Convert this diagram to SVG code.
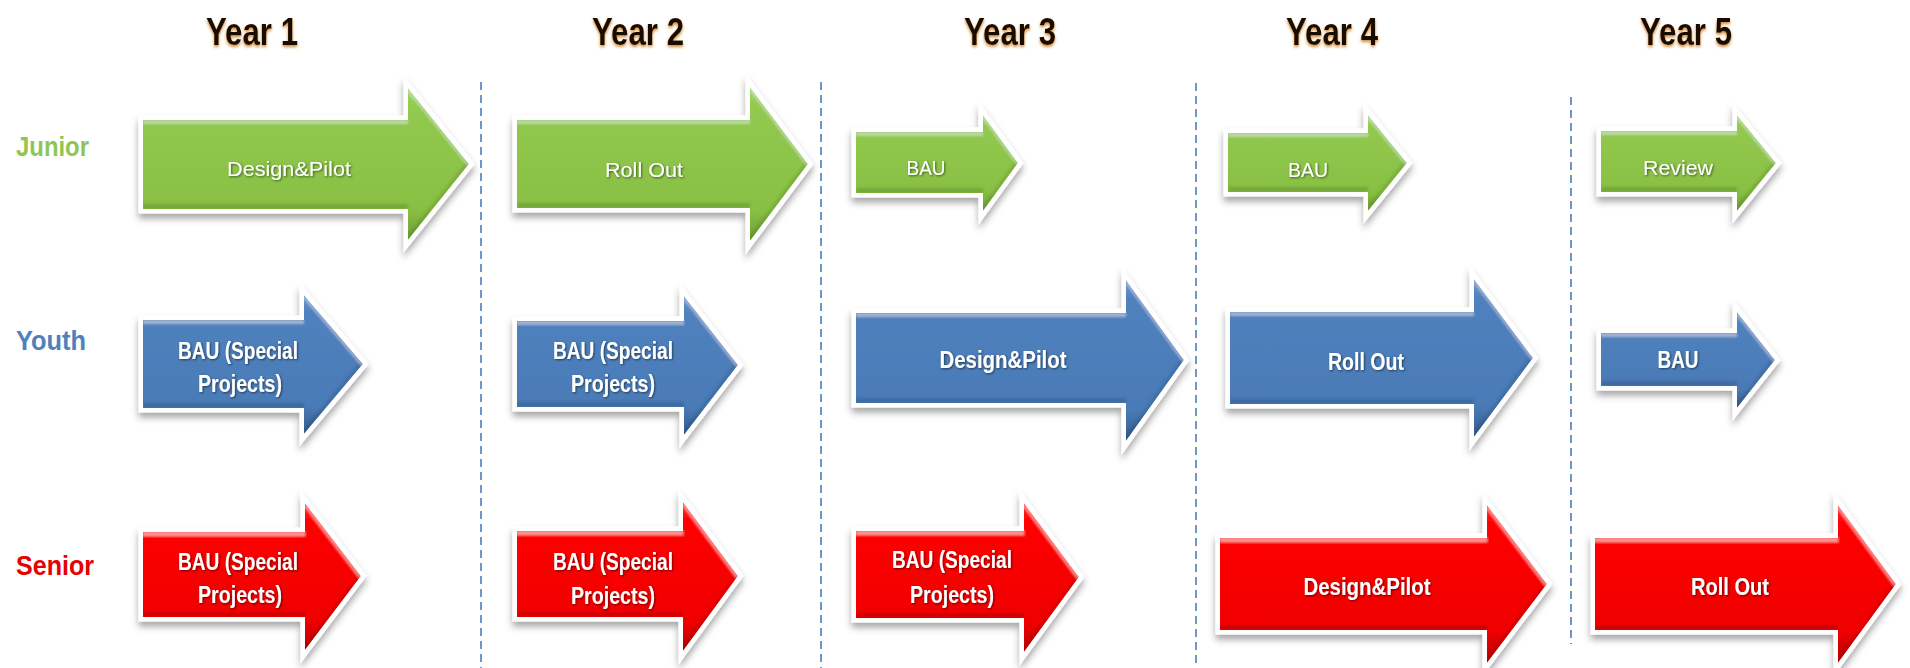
<svg xmlns="http://www.w3.org/2000/svg" width="1910" height="668" viewBox="0 0 1910 668">
<defs>
<linearGradient id="gGreen" x1="0" y1="0" x2="0" y2="1">
<stop offset="0" stop-color="#a6d86a"/><stop offset="0.12" stop-color="#92c94f"/><stop offset="0.8" stop-color="#88c043"/><stop offset="1" stop-color="#6e9e35"/>
</linearGradient>
<linearGradient id="gBlue" x1="0" y1="0" x2="0" y2="1">
<stop offset="0" stop-color="#6a97cf"/><stop offset="0.12" stop-color="#4f81bd"/><stop offset="0.8" stop-color="#4a7bb7"/><stop offset="1" stop-color="#355c8c"/>
</linearGradient>
<linearGradient id="gRed" x1="0" y1="0" x2="0" y2="1">
<stop offset="0" stop-color="#ff3030"/><stop offset="0.12" stop-color="#ff0000"/><stop offset="0.8" stop-color="#f00000"/><stop offset="1" stop-color="#b80000"/>
</linearGradient>
<filter id="drop" x="-10%" y="-20%" width="120%" height="150%">
<feGaussianBlur in="SourceAlpha" stdDeviation="3.5"/>
<feOffset dy="5" result="b"/>
<feFlood flood-color="#000" flood-opacity="0.35"/>
<feComposite in2="b" operator="in" result="s"/>
<feMerge><feMergeNode in="s"/><feMergeNode in="SourceGraphic"/></feMerge>
</filter>
<filter id="bevel" x="-5%" y="-5%" width="110%" height="110%">
<feOffset in="SourceAlpha" dy="-5" result="up"/>
<feComposite in="SourceAlpha" in2="up" operator="out" result="bot"/>
<feGaussianBlur in="bot" stdDeviation="1.5" result="botb"/>
<feFlood flood-color="#000" flood-opacity="0.28"/>
<feComposite in2="botb" operator="in" result="dark"/>
<feOffset in="SourceAlpha" dy="4" result="dn"/>
<feComposite in="SourceAlpha" in2="dn" operator="out" result="top"/>
<feGaussianBlur in="top" stdDeviation="1.2" result="topb"/>
<feFlood flood-color="#fff" flood-opacity="0.3"/>
<feComposite in2="topb" operator="in" result="light"/>
<feMerge><feMergeNode in="SourceGraphic"/><feMergeNode in="dark"/><feMergeNode in="light"/></feMerge>
<feComposite in2="SourceAlpha" operator="in"/>
</filter>
<filter id="glow" x="-20%" y="-30%" width="140%" height="170%">
<feGaussianBlur in="SourceAlpha" stdDeviation="1.8"/>
<feOffset dy="2" result="b"/>
<feFlood flood-color="#d07a20" flood-opacity="0.9"/>
<feComposite in2="b" operator="in" result="g"/>
<feMerge><feMergeNode in="g"/><feMergeNode in="SourceGraphic"/></feMerge>
</filter>
<filter id="tshadow" x="-10%" y="-30%" width="120%" height="160%">
<feGaussianBlur in="SourceAlpha" stdDeviation="0.8"/>
<feOffset dx="0.5" dy="1" result="b"/>
<feFlood flood-color="#000" flood-opacity="0.55"/>
<feComposite in2="b" operator="in" result="s"/>
<feMerge><feMergeNode in="s"/><feMergeNode in="SourceGraphic"/></feMerge>
</filter>
</defs>
<style>
.halo{fill:#fff;stroke:#fff;stroke-width:9;stroke-linejoin:miter;filter:url(#drop)}
.green{fill:url(#gGreen);filter:url(#bevel)}
.blue{fill:url(#gBlue);filter:url(#bevel)}
.red{fill:url(#gRed);filter:url(#bevel)}
.year{font-family:"Liberation Sans Narrow","Liberation Sans",Arial,sans-serif;font-weight:bold;font-size:38px;fill:#160a02;text-anchor:middle;filter:url(#glow)}
.lbl{font-family:"Liberation Sans Narrow","Liberation Sans",Arial,sans-serif;font-weight:bold;font-size:28px}
.t{font-family:"Liberation Sans Narrow","Liberation Sans",Arial,sans-serif;fill:#fff;text-anchor:middle;filter:url(#tshadow)}
.ts{font-size:21px}
.tb{font-size:24px;font-weight:bold}
.div{stroke:#4a7ebb;stroke-width:1.6;stroke-dasharray:8 5;fill:none}
</style>
<rect width="1910" height="668" fill="#fff"/>

<g id="headers">
<text class="year" x="252" y="45" textLength="92" lengthAdjust="spacingAndGlyphs">Year 1</text>
<text class="year" x="638" y="45" textLength="92" lengthAdjust="spacingAndGlyphs">Year 2</text>
<text class="year" x="1010" y="45" textLength="92" lengthAdjust="spacingAndGlyphs">Year 3</text>
<text class="year" x="1332" y="45" textLength="92" lengthAdjust="spacingAndGlyphs">Year 4</text>
<text class="year" x="1686" y="45" textLength="92" lengthAdjust="spacingAndGlyphs">Year 5</text>
</g>

<g id="row-labels">
<text class="lbl" x="16" y="156" fill="#8fc653" textLength="73" lengthAdjust="spacingAndGlyphs">Junior</text>
<text class="lbl" x="16" y="350" fill="#4f81bd" textLength="70" lengthAdjust="spacingAndGlyphs">Youth</text>
<text class="lbl" x="16" y="575" fill="#e60000" textLength="78" lengthAdjust="spacingAndGlyphs">Senior</text>
</g>

<g id="connectors">
<line class="div" x1="481" y1="82" x2="481" y2="668"/>
<line class="div" x1="821" y1="82" x2="821" y2="668"/>
<line class="div" x1="1196" y1="83" x2="1196" y2="668"/>
<line class="div" x1="1571" y1="97" x2="1571" y2="644"/>
</g>

<g id="junior-y1">
<path class="halo" d="M143,120 H408 V88 L469,164 L408,240 V209 H143 Z"/>
<path class="green" d="M143,120 H408 V88 L469,164 L408,240 V209 H143 Z"/>
<text class="t ts" x="289" y="176" textLength="124" lengthAdjust="spacingAndGlyphs">Design&amp;Pilot</text>
</g>
<g id="junior-y2">
<path class="halo" d="M517,120 H750 V87 L808,164 L750,241 V208 H517 Z"/>
<path class="green" d="M517,120 H750 V87 L808,164 L750,241 V208 H517 Z"/>
<text class="t ts" x="644" y="177" textLength="78" lengthAdjust="spacingAndGlyphs">Roll Out</text>
</g>
<g id="junior-y3">
<path class="halo" d="M856,132 H983 V115 L1018,163 L983,211 V193 H856 Z"/>
<path class="green" d="M856,132 H983 V115 L1018,163 L983,211 V193 H856 Z"/>
<text class="t ts" x="926" y="175" textLength="39" lengthAdjust="spacingAndGlyphs">BAU</text>
</g>
<g id="junior-y4">
<path class="halo" d="M1228,133 H1368 V115 L1407,163 L1368,211 V192 H1228 Z"/>
<path class="green" d="M1228,133 H1368 V115 L1407,163 L1368,211 V192 H1228 Z"/>
<text class="t ts" x="1308" y="177" textLength="40" lengthAdjust="spacingAndGlyphs">BAU</text>
</g>
<g id="junior-y5">
<path class="halo" d="M1601,131 H1737 V115 L1776,163 L1737,211 V192 H1601 Z"/>
<path class="green" d="M1601,131 H1737 V115 L1776,163 L1737,211 V192 H1601 Z"/>
<text class="t ts" x="1678" y="175" textLength="70" lengthAdjust="spacingAndGlyphs">Review</text>
</g>

<g id="youth-y1">
<path class="halo" d="M143,320 H304 V295 L363,364 L304,434 V408 H143 Z"/>
<path class="blue" d="M143,320 H304 V295 L363,364 L304,434 V408 H143 Z"/>
<text class="t tb" x="238" y="359" textLength="120" lengthAdjust="spacingAndGlyphs">BAU (Special</text>
<text class="t tb" x="240" y="392" textLength="84" lengthAdjust="spacingAndGlyphs">Projects)</text>
</g>
<g id="youth-y2">
<path class="halo" d="M517,321 H684 V296 L738,365 L684,435 V407 H517 Z"/>
<path class="blue" d="M517,321 H684 V296 L738,365 L684,435 V407 H517 Z"/>
<text class="t tb" x="613" y="359" textLength="120" lengthAdjust="spacingAndGlyphs">BAU (Special</text>
<text class="t tb" x="613" y="392" textLength="84" lengthAdjust="spacingAndGlyphs">Projects)</text>
</g>
<g id="youth-y3">
<path class="halo" d="M856,313 H1126 V280 L1184,360 L1126,441 V403 H856 Z"/>
<path class="blue" d="M856,313 H1126 V280 L1184,360 L1126,441 V403 H856 Z"/>
<text class="t tb" x="1003" y="368" textLength="127" lengthAdjust="spacingAndGlyphs">Design&amp;Pilot</text>
</g>
<g id="youth-y4">
<path class="halo" d="M1230,312 H1474 V279 L1533,358 L1474,437 V404 H1230 Z"/>
<path class="blue" d="M1230,312 H1474 V279 L1533,358 L1474,437 V404 H1230 Z"/>
<text class="t tb" x="1366" y="370" textLength="76" lengthAdjust="spacingAndGlyphs">Roll Out</text>
</g>
<g id="youth-y5">
<path class="halo" d="M1601,333 H1737 V312 L1775,360 L1737,408 V386 H1601 Z"/>
<path class="blue" d="M1601,333 H1737 V312 L1775,360 L1737,408 V386 H1601 Z"/>
<text class="t tb" x="1678" y="368" textLength="41" lengthAdjust="spacingAndGlyphs">BAU</text>
</g>

<g id="senior-y1">
<path class="halo" d="M143,532 H305 V503 L361,576 L305,650 V617 H143 Z"/>
<path class="red" d="M143,532 H305 V503 L361,576 L305,650 V617 H143 Z"/>
<text class="t tb" x="238" y="570" textLength="120" lengthAdjust="spacingAndGlyphs">BAU (Special</text>
<text class="t tb" x="240" y="603" textLength="84" lengthAdjust="spacingAndGlyphs">Projects)</text>
</g>
<g id="senior-y2">
<path class="halo" d="M517,531 H683 V502 L738,576 L683,651 V617 H517 Z"/>
<path class="red" d="M517,531 H683 V502 L738,576 L683,651 V617 H517 Z"/>
<text class="t tb" x="613" y="570" textLength="120" lengthAdjust="spacingAndGlyphs">BAU (Special</text>
<text class="t tb" x="613" y="604" textLength="84" lengthAdjust="spacingAndGlyphs">Projects)</text>
</g>
<g id="senior-y3">
<path class="halo" d="M856,531 H1024 V503 L1079,577 L1024,652 V618 H856 Z"/>
<path class="red" d="M856,531 H1024 V503 L1079,577 L1024,652 V618 H856 Z"/>
<text class="t tb" x="952" y="568" textLength="120" lengthAdjust="spacingAndGlyphs">BAU (Special</text>
<text class="t tb" x="952" y="603" textLength="84" lengthAdjust="spacingAndGlyphs">Projects)</text>
</g>
<g id="senior-y4">
<path class="halo" d="M1220,538 H1487 V505 L1547,584 L1487,663 V630 H1220 Z"/>
<path class="red" d="M1220,538 H1487 V505 L1547,584 L1487,663 V630 H1220 Z"/>
<text class="t tb" x="1367" y="595" textLength="127" lengthAdjust="spacingAndGlyphs">Design&amp;Pilot</text>
</g>
<g id="senior-y5">
<path class="halo" d="M1595,538 H1838 V505 L1896,584 L1838,663 V630 H1595 Z"/>
<path class="red" d="M1595,538 H1838 V505 L1896,584 L1838,663 V630 H1595 Z"/>
<text class="t tb" x="1730" y="595" textLength="78" lengthAdjust="spacingAndGlyphs">Roll Out</text>
</g>
</svg>
